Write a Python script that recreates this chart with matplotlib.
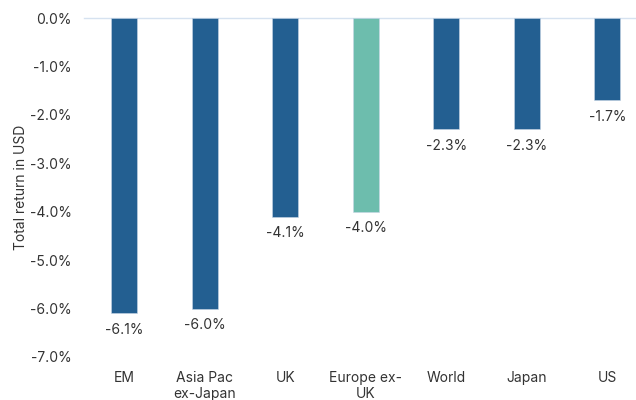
import matplotlib
matplotlib.use("Agg")
import matplotlib.pyplot as plt
from matplotlib.ticker import FuncFormatter

categories = ["EM", "Asia Pac\nex-Japan", "UK", "Europe ex-\nUK", "World", "Japan", "US"]
values = [-6.1, -6.0, -4.1, -4.0, -2.3, -2.3, -1.7]
colors = ["#235F91", "#235F91", "#235F91", "#6DBDAD", "#235F91", "#235F91", "#235F91"]
yticks = [0, -1, -2, -3, -4, -5, -6, -7]

plt.rcParams['font.family'] = ['Inter', 'DejaVu Sans']
text_color = "#333333"

fig = plt.figure(figsize=(6.36, 4.0), dpi=100)
ax = fig.add_axes([84/636, 43/400, 552/636, 339/400])

x = list(range(len(categories)))
bars = ax.bar(x, values, width=0.32, color=colors, edgecolor="#c8d6e6", linewidth=0.4, zorder=3)

ax.set_xlim(-0.5, (636-84)/80.5 - 0.5)
ax.set_ylim(-7, 0)
ax.set_yticks(yticks)
ax.yaxis.set_major_formatter(FuncFormatter(lambda v, p: f"{v:.1f}%"))
ax.set_xticks(x)
ax.set_xticklabels(categories, linespacing=1.2)

for s in ax.spines.values():
    s.set_visible(False)
ax.axhline(0, color="#d6e2f0", linewidth=1.0, zorder=2, clip_on=False)
ax.tick_params(axis='both', length=0, labelsize=10, colors=text_color)
ax.tick_params(axis='x', pad=10)
ax.tick_params(axis='y', pad=9)

for xi, v in zip(x, values):
    ax.annotate(f"{v:.1f}%", (xi, v), xytext=(0, -7), textcoords="offset points",
                ha="center", va="top", fontsize=10, color=text_color)

ax.set_ylabel("Total return in USD", fontsize=10, color=text_color)
ax.yaxis.set_label_coords(-0.102, 0.5)

fig.savefig("out.png", dpi=100)
